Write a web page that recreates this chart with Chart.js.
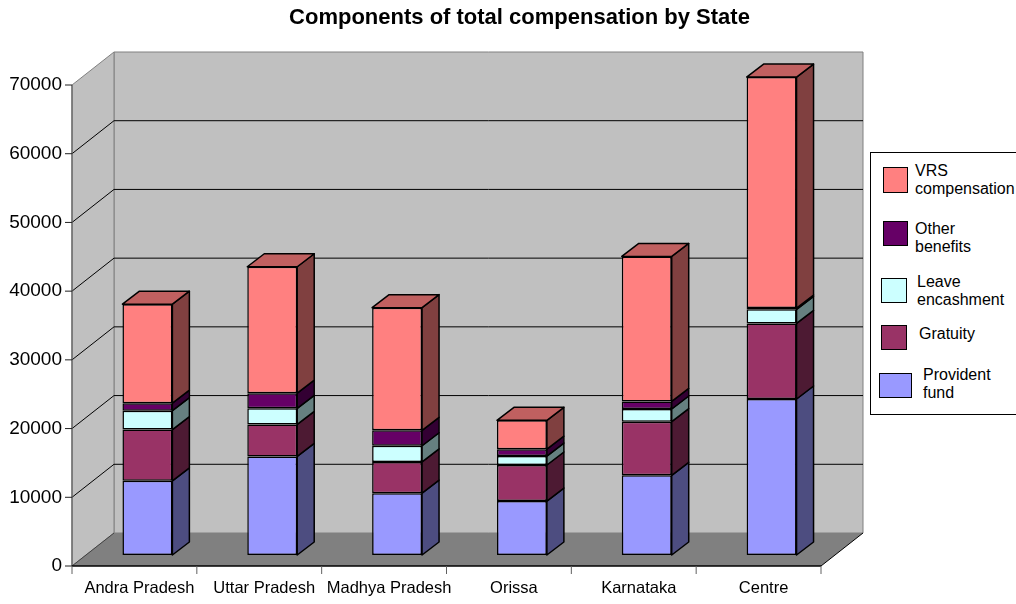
<!DOCTYPE html>
<html><head><meta charset="utf-8">
<script src="https://cdn.jsdelivr.net/npm/chart.js@4.4.1/dist/chart.umd.min.js"></script>
<style>
html,body{margin:0;padding:0;background:#fff;}
#wrap{position:relative;width:1016px;height:604px;overflow:hidden;background:#fff;}
#c{position:absolute;left:0;top:0;}
#legend{position:absolute;left:870px;top:152px;width:170px;height:261px;border:1px solid #000;background:#fff;font-family:"Liberation Sans",Arial,sans-serif;font-size:16px;line-height:18px;color:#000;}
.sw{position:absolute;border:1.5px solid #000;box-sizing:border-box;}
.lt{position:absolute;white-space:pre;}
</style></head><body>
<div id="wrap"><canvas id="c" width="1016" height="604"></canvas><div id="legend"></div></div>
<script>
// ---- data ----
const chartTitle = "Components of total compensation by State";
const categories = ["Andra Pradesh","Uttar Pradesh","Madhya Pradesh","Orissa","Karnataka","Centre"];
const providentFund   = [10800, 14350,  9000, 7850, 11600, 22700];
const gratuity        = [ 7450,  4650,  4550, 5250,  7800, 11000];
const leaveEncashment = [ 2750,  2350,  2350, 1300,  1850,  2050];
const otherBenefits   = [ 1100,  2200,  2250, 1000,  1100,   200];
const vrsCompensation = [14400, 18400, 17850, 4200, 21100, 33600];
const yTicks = [0, 10000, 20000, 30000, 40000, 50000, 60000, 70000];
const seriesNames = ["Provident fund","Gratuity","Leave encashment","Other benefits","VRS compensation"];
const legendLabels = ["Provident\nfund","Gratuity","Leave\nencashment","Other\nbenefits","VRS\ncompensation"];
const seriesValues = [providentFund, gratuity, leaveEncashment, otherBenefits, vrsCompensation];
const frontColors = ["#9999FF","#993366","#CCFFFF","#660066","#FF8080"];
const sideColors  = ["#4D4D80","#4D1A33","#668080","#330033","#804040"];
const topColors   = ["#7373BF","#732650","#99BFBF","#4D004D","#C06060"];

const FONT = '"Liberation Sans", Arial, sans-serif';
const FRONT = {dx:-13, dy:11};   // bar plane -> front plane
const DEPTH = {dx:42, dy:-33};   // front plane -> back wall
const BAR_D = {dx:17, dy:-13};   // bar depth

function poly(ctx, pts, fill, stroke, lw){
  ctx.beginPath();
  ctx.moveTo(pts[0][0], pts[0][1]);
  for (let i=1;i<pts.length;i++) ctx.lineTo(pts[i][0], pts[i][1]);
  ctx.closePath();
  if (fill){ ctx.fillStyle = fill; ctx.fill(); }
  if (stroke){ ctx.strokeStyle = stroke; ctx.lineWidth = lw || 1; ctx.stroke(); }
}
function line(ctx, x1,y1,x2,y2,color,lw){
  ctx.beginPath(); ctx.moveTo(x1,y1); ctx.lineTo(x2,y2);
  ctx.strokeStyle=color; ctx.lineWidth=lw||1; ctx.stroke();
}

const threeD = {
  id:'threeD',
  beforeDatasetsDraw(chart){
    const ctx = chart.ctx, a = chart.chartArea, ys = chart.scales.y;
    const yMin = yTicks[0], yMax = yTicks[yTicks.length-1];
    const fl = a.left + FRONT.dx, fr = a.right + FRONT.dx;
    const fy = v => ys.getPixelForValue(v) + FRONT.dy;
    const bl = fl + DEPTH.dx, br = fr + DEPTH.dx;
    const by = v => fy(v) + DEPTH.dy;
    ctx.save();
    poly(ctx, [[bl,by(yMax)],[br,by(yMax)],[br,by(yMin)],[bl,by(yMin)]], '#C0C0C0', '#808080', 1);
    poly(ctx, [[fl,fy(yMax)],[bl,by(yMax)],[bl,by(yMin)],[fl,fy(yMin)]], '#C0C0C0', '#808080', 1);
    poly(ctx, [[fl,fy(yMin)],[bl,by(yMin)],[br,by(yMin)],[fr,fy(yMin)]], '#808080', null);
    yTicks.forEach(v => {
      if (v === yMin || v === yMax) return;
      ctx.beginPath();
      ctx.moveTo(fl, fy(v)); ctx.lineTo(bl, by(v)); ctx.lineTo(br, by(v));
      ctx.strokeStyle = '#000'; ctx.lineWidth = 1; ctx.stroke();
    });
    line(ctx, fl, fy(yMin), bl, by(yMin), '#404040', 1);
    line(ctx, fr, fy(yMin), br, by(yMin), '#000', 1);
    line(ctx, fl, fy(yMax), fl, fy(yMin), '#606060', 1.2);
    yTicks.forEach(v => line(ctx, fl-7, fy(v), fl, fy(v), '#202020', 1));
    line(ctx, fl, fy(yMin), fr, fy(yMin), '#000', 1.5);
    const n = categories.length, step = (a.right - a.left)/n;
    for (let i=0;i<=n;i++){
      const x = fl + step*i;
      line(ctx, x, fy(yMin), x, fy(yMin)+8, '#606060', 1);
    }
    ctx.restore();
  },
  afterDatasetsDraw(chart){
    const ctx = chart.ctx;
    ctx.save();
    ctx.lineJoin = 'round';
    const nd = chart.data.datasets.length;
    for (let d=0; d<nd; d++){
      const meta = chart.getDatasetMeta(d);
      meta.data.forEach((el, j) => {
        const p = el.getProps(['x','y','base','width'], true);
        const L = p.x - p.width/2, R = p.x + p.width/2, T = Math.min(p.y,p.base), B = Math.max(p.y,p.base);
        poly(ctx, [[R,T],[R+BAR_D.dx,T+BAR_D.dy],[R+BAR_D.dx,B+BAR_D.dy],[R,B]], sideColors[d], '#000', 1.5);
        let isTop = true;
        for (let k=d+1;k<nd;k++) if (chart.data.datasets[k].data[j] > 0) isTop = false;
        if (isTop){
          poly(ctx, [[L,T],[L+BAR_D.dx,T+BAR_D.dy],[R+BAR_D.dx,T+BAR_D.dy],[R,T]], topColors[d], '#000', 1.5);
        }
      });
    }
    ctx.restore();
  }
};

const datasets = seriesNames.map((name, i) => ({
  label: name,
  data: seriesValues[i],
  backgroundColor: frontColors[i],
  borderColor: '#000',
  borderWidth: 1.5,
  borderSkipped: false,
  categoryPercentage: 1.0,
  barPercentage: 0.4
}));

new Chart(document.getElementById('c'), {
  type: 'bar',
  data: { labels: categories, datasets },
  plugins: [threeD],
  options: {
    responsive: false,
    animation: false,
    devicePixelRatio: 1,
    layout: { padding: { left: 0, right: -23, top: 0, bottom: 0 } },
    plugins: {
      legend: { display: false },
      tooltip: { enabled: false },
      title: {
        display: true, text: chartTitle, color: '#000',
        font: { family: FONT, size: 22, weight: 'bold', lineHeight: 1.2 },
        padding: { top: 5, bottom: 42.6 }
      }
    },
    scales: {
      x: {
        stacked: true,
        grid: { display: false, drawTicks: false },
        border: { display: false },
        ticks: { color: '#000', font: { family: FONT, size: 16.5 }, padding: 24, labelOffset: -8, maxRotation: 0, autoSkip: false },
        afterFit: s => { s.height = 49; }
      },
      y: {
        stacked: true,
        min: yTicks[0], max: yTicks[yTicks.length-1],
        grid: { display: false, drawTicks: false },
        border: { display: false },
        afterBuildTicks: s => { s.ticks = yTicks.map(v => ({ value: v })); },
        ticks: { color: '#000', font: { family: FONT, size: 19 }, padding: 23, labelOffset: 11, callback: v => String(v) },
        afterFit: s => { s.width = 85; }
      },
      yPad: {
        position: 'right', type: 'linear', display: true,
        grid: { display: false, drawTicks: false },
        border: { display: false },
        ticks: { display: false },
        afterFit: s => { s.width = 205; }
      }
    }
  }
});

// HTML legend (reverse stacking order), positions relative to legend box
const legendPos = [ // for seriesNames order
  { sx: 7.5, sy: 220, sw: 33, sh: 25, tx: 52, ty: 212.5 },
  { sx: 9.5, sy: 172, sw: 26, sh: 25, tx: 48, ty: 172 },
  { sx: 9.5, sy: 125, sw: 26, sh: 25, tx: 46, ty: 119.8 },
  { sx: 12,  sy: 68,  sw: 25, sh: 25, tx: 44, ty: 66.5 },
  { sx: 12,  sy: 14,  sw: 25, sh: 26, tx: 44, ty: 9.1 }
];
const leg = document.getElementById('legend');
for (let i = seriesNames.length-1; i >= 0; i--){
  const p = legendPos[i];
  const s = document.createElement('div');
  s.className = 'sw';
  s.style.cssText = `left:${p.sx}px;top:${p.sy}px;width:${p.sw}px;height:${p.sh}px;background:${frontColors[i]};`;
  leg.appendChild(s);
  const t = document.createElement('div');
  t.className = 'lt';
  t.style.cssText = `left:${p.tx}px;top:${p.ty}px;`;
  t.textContent = legendLabels[i];
  leg.appendChild(t);
}
</script>
</body></html>
